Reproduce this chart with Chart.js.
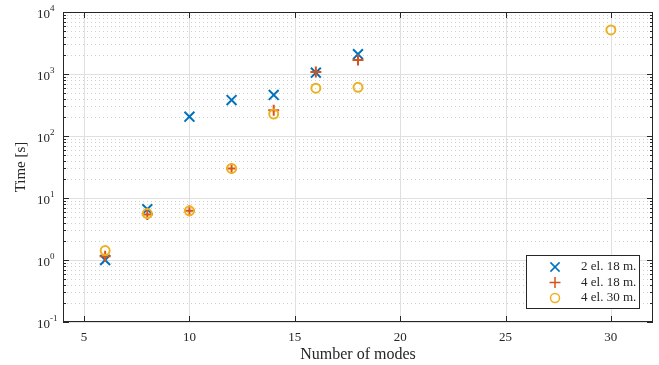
<!DOCTYPE html>
<html>
<head>
<meta charset="utf-8">
<script src="https://cdn.jsdelivr.net/npm/chart.js@4.4.1/dist/chart.umd.min.js"></script>
<style>
  html, body { margin: 0; padding: 0; background: #fff; }
  #wrap { width: 659px; height: 365px; }
</style>
</head>
<body>
<div id="wrap"><canvas id="modesChart"></canvas></div>
<script>
// data
const seriesNames = ['2 el. 18 m.', '4 el. 18 m.', '4 el. 30 m.'];
const modes2el18 = [6, 8, 10, 12, 14, 16, 18];
const time2el18 = [1.0, 6.6, 205, 380, 460, 1050, 2090];
const modes4el18 = [6, 8, 10, 12, 14, 16, 18];
const time4el18 = [1.15, 5.4, 6.2, 30, 260, 1080, 1680];
const modes4el30 = [6, 8, 10, 12, 14, 16, 18, 30];
const time4el30 = [1.42, 5.6, 6.2, 30, 226, 590, 610, 5130];
const xTicks = [5, 10, 15, 20, 25, 30];
const yDecades = [-1, 0, 1, 2, 3, 4];

const colors = ['#0072BD', '#D95319', '#EDB120'];
const styles = ['crossRot', 'cross', 'circle'];
const radii = [7, 5.5, 4.5];
const axisColor = '#262626';
const fontName = '"Liberation Serif", "DejaVu Serif", serif';

function toPoints(xs, ys) {
    return xs.map(function(x, i) { return { x: x, y: ys[i] }; });
}

// grid drawn under the markers
const gridPlugin = {
    id: 'matlabGrid',
    beforeDatasetsDraw(chart) {
        const ctx = chart.ctx;
        const a = chart.chartArea;
        const xs = chart.scales.x, ys = chart.scales.y;
        ctx.save();
        ctx.lineWidth = 1;
        // minor dotted horizontal lines
        ctx.strokeStyle = '#cfcfcf';
        ctx.setLineDash([1, 3]);
        for (let d = -1; d < 4; d++) {
            for (let m = 2; m <= 9; m++) {
                const y = Math.round(ys.getPixelForValue(m * Math.pow(10, d))) + 0.5;
                ctx.beginPath(); ctx.moveTo(a.left, y); ctx.lineTo(a.right, y); ctx.stroke();
            }
        }
        // major solid lines
        ctx.setLineDash([]);
        ctx.strokeStyle = '#e0e0e0';
        yDecades.forEach(function(d) {
            const y = Math.round(ys.getPixelForValue(Math.pow(10, d))) + 0.5;
            ctx.beginPath(); ctx.moveTo(a.left, y); ctx.lineTo(a.right, y); ctx.stroke();
        });
        xTicks.forEach(function(v) {
            const x = Math.round(xs.getPixelForValue(v)) + 0.5;
            ctx.beginPath(); ctx.moveTo(x, a.top); ctx.lineTo(x, a.bottom); ctx.stroke();
        });
        ctx.restore();
    },
    afterDatasetsDraw(chart) {
        const ctx = chart.ctx;
        const a = chart.chartArea;
        const xs = chart.scales.x, ys = chart.scales.y;
        ctx.save();
        ctx.strokeStyle = axisColor;
        ctx.fillStyle = axisColor;
        ctx.lineWidth = 1;
        // box
        ctx.strokeRect(a.left + 0.5, a.top + 0.5, a.right - a.left - 1, a.bottom - a.top - 1);
        // x ticks, inward on top and bottom
        ctx.beginPath();
        xTicks.forEach(function(v) {
            const x = Math.round(xs.getPixelForValue(v)) + 0.5;
            ctx.moveTo(x, a.bottom); ctx.lineTo(x, a.bottom - 6);
            ctx.moveTo(x, a.top); ctx.lineTo(x, a.top + 6);
        });
        // y ticks, major and minor
        for (let d = -1; d <= 4; d++) {
            for (let m = 1; m <= 9; m++) {
                if (d === 4 && m > 1) break;
                const y = Math.round(ys.getPixelForValue(m * Math.pow(10, d))) + 0.5;
                const len = m === 1 ? 6 : 3;
                ctx.moveTo(a.left, y); ctx.lineTo(a.left + len, y);
                ctx.moveTo(a.right, y); ctx.lineTo(a.right - len, y);
            }
        }
        ctx.stroke();

        // x tick labels
        ctx.font = '13px ' + fontName;
        ctx.textAlign = 'center';
        ctx.textBaseline = 'middle';
        xTicks.forEach(function(v) {
            ctx.fillText(String(v), xs.getPixelForValue(v), a.bottom + 16);
        });
        // y tick labels 10^n
        yDecades.forEach(function(d) {
            const y = ys.getPixelForValue(Math.pow(10, d));
            ctx.font = '13px ' + fontName;
            ctx.textAlign = 'right';
            ctx.fillText('10', 50, y + 3);
            ctx.font = '9px ' + fontName;
            ctx.textAlign = 'left';
            ctx.fillText(String(d), 50, y - 3);
        });
        // axis titles
        ctx.font = '16px ' + fontName;
        ctx.textAlign = 'center';
        ctx.fillText('Number of modes', (a.left + a.right) / 2, a.bottom + 33);
        ctx.font = '15px ' + fontName;
        ctx.save();
        ctx.translate(21, (a.top + a.bottom) / 2);
        ctx.rotate(-Math.PI / 2);
        ctx.fillText('Time [s]', 0, 0);
        ctx.restore();

        // legend
        const lx = 526, ly = 255, lw = 113, lh = 53;
        ctx.fillStyle = '#ffffff';
        ctx.fillRect(lx, ly, lw, lh);
        ctx.strokeStyle = axisColor;
        ctx.strokeRect(lx + 0.5, ly + 0.5, lw, lh);
        ctx.font = '13px ' + fontName;
        ctx.textAlign = 'left';
        seriesNames.forEach(function(name, i) {
            const yy = ly + 12 + i * 15.5;
            ctx.strokeStyle = colors[i];
            ctx.fillStyle = 'rgba(0,0,0,0)';
            ctx.lineWidth = 1.5;
            Chart.helpers.drawPoint(ctx, { pointStyle: styles[i], radius: i === 0 ? 6.5 : radii[i], rotation: 0, borderWidth: 1.5 }, 555, yy);
            ctx.fillStyle = axisColor;
            ctx.fillText(name, 581, yy);
        });
        ctx.restore();
    }
};

const datasets = [
    { label: seriesNames[0], data: toPoints(modes2el18, time2el18), order: 2 },
    { label: seriesNames[1], data: toPoints(modes4el18, time4el18), order: 1 },
    { label: seriesNames[2], data: toPoints(modes4el30, time4el30), order: 0 }
].map(function(ds, i) {
    ds.pointStyle = styles[i];
    ds.borderColor = colors[i];
    ds.backgroundColor = 'rgba(0,0,0,0)';
    ds.pointRadius = radii[i];
    ds.pointHoverRadius = radii[i];
    ds.borderWidth = 2;
    ds.pointBorderWidth = 2;
    ds.showLine = false;
    return ds;
});

new Chart(document.getElementById('modesChart'), {
    type: 'scatter',
    data: { datasets: datasets },
    options: {
        responsive: true,
        maintainAspectRatio: false,
        animation: false,
        events: [],
        layout: { autoPadding: false, padding: { top: 12, right: 6, left: 0, bottom: 0 } },
        plugins: { legend: { display: false }, tooltip: { enabled: false } },
        scales: {
            x: {
                type: 'linear', min: 4, max: 32,
                grid: { display: false }, border: { display: false },
                ticks: { display: false },
                afterFit: function(scale) { scale.height = 43; }
            },
            y: {
                type: 'logarithmic', min: 0.1, max: 10000,
                grid: { display: false }, border: { display: false },
                ticks: { display: false },
                afterFit: function(scale) { scale.width = 63; }
            }
        }
    },
    plugins: [gridPlugin]
});
</script>
</body>
</html>
